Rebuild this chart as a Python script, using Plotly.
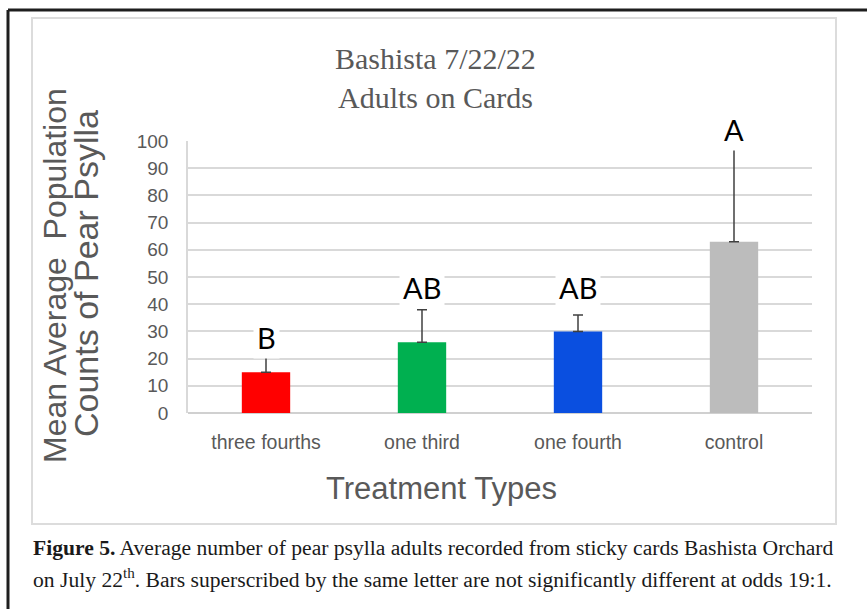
import plotly.graph_objects as go

# Treatments, mean counts, upper error and significance letters
treatments = ["three fourths", "one third", "one fourth", "control"]
mean_counts = [15, 26, 30, 63]
error_plus = [7.5, 12, 6, 34.5]
letters = ["B", "AB", "AB", "A"]
bar_colors = ["#ff0000", "#00b050", "#0a4fe0", "#bcbcbc"]
letter_offsets_px = [14, 22, 28, 18]

y_ticks = list(range(0, 101, 10))

W, H = 867, 609


def px(x):
    return x / W


def py(y):
    return 1 - y / H


def paper_text(x, y, text, font, **kw):
    d = dict(x=px(x), y=py(y), xref="paper", yref="paper", text=text,
             showarrow=False, xanchor="center", yanchor="middle", font=font)
    d.update(kw)
    return d


fig = go.Figure()
fig.add_trace(go.Bar(
    x=treatments,
    y=mean_counts,
    marker=dict(color=bar_colors, line=dict(width=0)),
    error_y=dict(type="data", symmetric=False, array=error_plus,
                 arrayminus=[0] * len(error_plus),
                 color="#404040", thickness=1.5, width=5),
    width=0.31,
    showlegend=False,
))

annotations = []
# significance letters above error bars
for t, m, e, lab, off in zip(treatments, mean_counts, error_plus, letters, letter_offsets_px):
    annotations.append(dict(
        x=t, y=m + e, xref="x", yref="y", text=lab, showarrow=False,
        xanchor="center", yanchor="middle", yshift=off,
        font=dict(family="Lato", size=29, color="#000000"),
        bgcolor="#ffffff", borderpad=3,
    ))

title_font = dict(family="Liberation Serif", size=30, color="#595959")
caption_font = dict(family="Liberation Serif", size=21.6, color="#1a1a1a")
grey_sans = "Liberation Sans"

# chart title (two lines)
annotations.append(paper_text(435, 58, "Bashista 7/22/22", title_font))
annotations.append(paper_text(435, 97, "Adults on Cards", title_font))

# y-axis title (two rotated lines)
annotations.append(paper_text(55, 276, "Mean Average  Population",
                              dict(family=grey_sans, size=32, color="#595959"), textangle=-90))
annotations.append(paper_text(86, 274, "Counts of Pear Psylla",
                              dict(family=grey_sans, size=34, color="#595959"), textangle=-90))

# x-axis title
annotations.append(paper_text(442, 488, "Treatment Types",
                              dict(family=grey_sans, size=31, color="#595959")))

# figure caption
annotations.append(paper_text(
    31, 548,
    "<b>Figure 5.</b> Average number of pear psylla adults recorded from sticky cards Bashista Orchard",
    caption_font, xanchor="left"))
annotations.append(paper_text(
    31, 578,
    "on July 22<sup>th</sup>. Bars superscribed by the same letter are not significantly different at odds 19:1.",
    caption_font, xanchor="left"))

shapes = [
    # inner chart box
    dict(type="rect", xref="paper", yref="paper",
         x0=px(32), x1=px(836), y0=py(524), y1=py(18),
         line=dict(color="#dcdcdc", width=2), layer="below"),
    # outer page frame
    dict(type="line", xref="paper", yref="paper",
         x0=px(8), x1=1, y0=py(10), y1=py(10),
         line=dict(color="#1e1e1e", width=3)),
    dict(type="line", xref="paper", yref="paper",
         x0=px(8), x1=px(8), y0=py(10), y1=0,
         line=dict(color="#1e1e1e", width=3)),
]

fig.update_layout(
    width=W, height=H,
    margin=dict(l=0, r=0, t=0, b=0, pad=0, autoexpand=False),
    paper_bgcolor="#ffffff",
    plot_bgcolor="#ffffff",
    bargap=0.69,
    annotations=annotations,
    shapes=shapes,
    xaxis=dict(
        domain=[px(188), px(812)],
        automargin=False,
        showgrid=False, showline=False, zeroline=False,
        ticks="", ticklabelstandoff=15,
        tickfont=dict(family=grey_sans, size=19.5, color="#595959"),
    ),
    yaxis=dict(
        domain=[py(413), py(141)],
        automargin=False,
        range=[0, 100],
        tickvals=y_ticks,
        showgrid=True, gridcolor="#d9d9d9", gridwidth=1.5,
        zeroline=True, zerolinecolor="#d0d0d0", zerolinewidth=1.5,
        showline=True, linecolor="#d9d9d9", linewidth=1.5,
        ticks="", ticklabelstandoff=14,
        tickfont=dict(family=grey_sans, size=19, color="#595959"),
    ),
)

fig.write_html("out.html")
